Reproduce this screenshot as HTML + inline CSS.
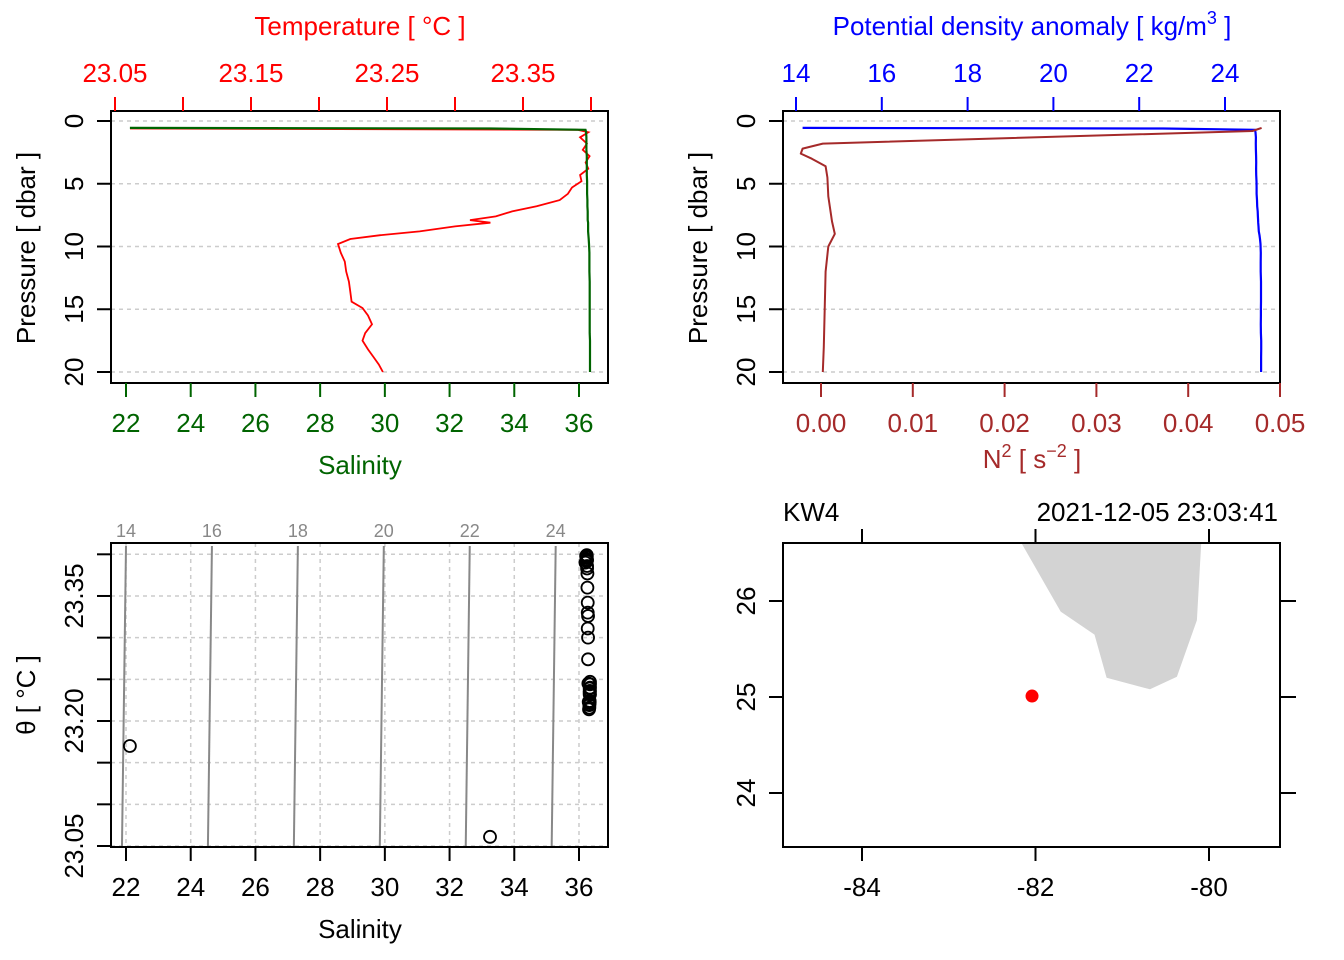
<!DOCTYPE html>
<html><head><meta charset="utf-8"><style>
body{margin:0;background:#fff}
svg{display:block;font-family:"Liberation Sans",sans-serif}
</style></head><body>
<svg id="s" width="1344" height="960" viewBox="0 0 1344 960" xmlns="http://www.w3.org/2000/svg"></svg>
<script>
// ---- profile data ----
const pressure = [0.55,0.6,0.7,0.9,1.3,1.8,2.3,2.8,3.3,3.8,4.3,4.8,5.3,5.8,6.3,6.8,7.2,7.6,7.9,8.1,8.4,8.8,9.1,9.4,9.8,10.5,11.2,12,12.8,13.6,14.4,14.9,15.5,16.2,16.9,17.5,18.2,18.8,19.4,20];
const temperature = [23.170,23.061,23.390,23.398,23.392,23.397,23.394,23.399,23.396,23.398,23.392,23.393,23.386,23.383,23.377,23.360,23.342,23.330,23.311,23.326,23.300,23.274,23.245,23.223,23.214,23.216,23.219,23.220,23.222,23.223,23.224,23.232,23.236,23.239,23.234,23.232,23.236,23.240,23.244,23.247];
const salinity = [22.12,33.25,36.20,36.22,36.23,36.23,36.23,36.24,36.24,36.24,36.24,36.25,36.25,36.25,36.26,36.26,36.27,36.27,36.27,36.28,36.28,36.28,36.29,36.30,36.31,36.32,36.32,36.32,36.33,36.33,36.33,36.33,36.33,36.33,36.33,36.34,36.34,36.34,36.34,36.34];
const n2Pressure = [0.55,0.8,1.8,2.2,2.6,3.0,3.6,4.5,6,8,9,10,12,15,18,20];
const n2Values = [0.0480,0.0470,0.0002,-0.0020,-0.0022,-0.0010,0.0005,0.0007,0.0008,0.0012,0.0015,0.0008,0.0005,0.0004,0.0003,0.0002];
const tempTicks = [23.05,23.10,23.15,23.20,23.25,23.30,23.35,23.40];
const tempLabels = ["23.05","","23.15","","23.25","","23.35",""];
const salTicks = [22,24,26,28,30,32,34,36];
const pTicks = [0,5,10,15,20];
const sigTicks = [14,16,18,20,22,24];
const n2Ticks = [0,0.01,0.02,0.03,0.04,0.05];
const n2Labels = ["0.00","0.01","0.02","0.03","0.04","0.05"];
const thetaTicks = [23.05,23.10,23.15,23.20,23.25,23.30,23.35,23.40];
const thetaLabels = ["23.05","","","23.20","","","23.35",""];
const isoLevels = [14,16,18,20,22,24];
const lonTicks = [-84,-82,-80];
const latTicks = [24,25,26];
const coastLon = [-82.16,-81.71,-81.32,-81.18,-80.68,-80.37,-80.14,-80.09];
const coastLat = [26.60,25.89,25.65,25.20,25.08,25.21,25.80,26.60];
const stationLon = -82.04, stationLat = 25.01;

const FS = 26;
const S = document.getElementById('s');
const NS = 'http://www.w3.org/2000/svg';
function mk(tag, at, parent){const e=document.createElementNS(NS,tag);for(const k in at)e.setAttribute(k,at[k]);(parent||S).appendChild(e);return e;}
function txt(x,y,str,size,fill,anchor,rot){const t=mk('text',{x:x,y:y,'font-size':size,fill:fill,'text-anchor':anchor||'middle'});if(rot)t.setAttribute('transform','rotate(-90 '+x+' '+y+')');t.textContent=str;return t;}
function sigma(s,t){return 14+(s-22.0)/1.328-(t-23.41)*0.26;}

const xS = s=>126+(s-22)*32.357;
const xT = t=>115+(t-23.05)/0.05*68;
const yP1 = p=>121+p*12.55;
const xSig = g=>796+(g-14)*42.9;
const xN2 = n=>821+n*9180;
const yTh = t=>846-(t-23.05)/0.05*41.67;
const xLon = l=>862+(l+84)*86.75;
const yLat = l=>601-(l-26)*96;

// ===== Panel 1 =====
let g = mk('g',{});  
pTicks.forEach(p=>{const l=mk('line',{x1:111,x2:608,y1:yP1(p),y2:yP1(p),stroke:'#ccc','stroke-dasharray':'4 4','stroke-width':1.5},g);});
let d='';pressure.forEach((p,i)=>{d+=(i?'L':'M')+xT(temperature[i]).toFixed(1)+' '+yP1(p).toFixed(1);});
let e=mk('path',{d:d,fill:'none',stroke:'#f00','stroke-width':1.8},g);
d='';pressure.forEach((p,i)=>{d+=(i?'L':'M')+xS(salinity[i]).toFixed(1)+' '+yP1(p).toFixed(1);});
e=mk('path',{d:d,fill:'none',stroke:'#006400','stroke-width':2.2},g);
e=mk('rect',{x:111,y:111,width:497,height:272,fill:'none',stroke:'#000','stroke-width':2},g);
tempTicks.forEach((t,i)=>{mk('line',{x1:xT(t),x2:xT(t),y1:111,y2:97,stroke:'#f00','stroke-width':2},g);if(tempLabels[i]){e=txt(xT(t),82,tempLabels[i],FS,'#f00');}});
salTicks.forEach(s=>{mk('line',{x1:xS(s),x2:xS(s),y1:383,y2:397,stroke:'#006400','stroke-width':2},g);e=txt(xS(s),432,String(s),FS,'#006400');});
pTicks.forEach(p=>{mk('line',{x1:111,x2:97,y1:yP1(p),y2:yP1(p),stroke:'#000','stroke-width':2},g);e=txt(83,yP1(p),String(p),FS,'#000','middle',true);});
e=txt(360,35,'Temperature [ °C ]',FS,'#f00');
e=txt(360,474,'Salinity',FS,'#006400');
e=txt(35,248,'Pressure [ dbar ]',FS,'#000','middle',true);

// ===== Panel 2 =====
g = mk('g',{});  
pTicks.forEach(p=>{const l=mk('line',{x1:783,x2:1280,y1:yP1(p),y2:yP1(p),stroke:'#ccc','stroke-dasharray':'4 4','stroke-width':1.5},g);});
d='';pressure.forEach((p,i)=>{d+=(i?'L':'M')+xSig(sigma(salinity[i],temperature[i])).toFixed(1)+' '+yP1(p).toFixed(1);});
e=mk('path',{d:d,fill:'none',stroke:'#00f','stroke-width':2.2},g);
d='';n2Pressure.forEach((p,i)=>{d+=(i?'L':'M')+xN2(n2Values[i]).toFixed(1)+' '+yP1(p).toFixed(1);});
e=mk('path',{d:d,fill:'none',stroke:'#a52a2a','stroke-width':2,'stroke-linejoin':'round'},g);
e=mk('rect',{x:783,y:111,width:497,height:272,fill:'none',stroke:'#000','stroke-width':2},g);
sigTicks.forEach(s=>{mk('line',{x1:xSig(s),x2:xSig(s),y1:111,y2:97,stroke:'#00f','stroke-width':2},g);e=txt(xSig(s),82,String(s),FS,'#00f');});
n2Ticks.forEach((n,i)=>{mk('line',{x1:xN2(n),x2:xN2(n),y1:383,y2:397,stroke:'#a52a2a','stroke-width':2},g);e=txt(xN2(n),432,n2Labels[i],FS,'#a52a2a');});
pTicks.forEach(p=>{mk('line',{x1:783,x2:769,y1:yP1(p),y2:yP1(p),stroke:'#000','stroke-width':2},g);e=txt(755,yP1(p),String(p),FS,'#000','middle',true);});
e=mk('text',{x:1032,y:35,'font-size':FS,fill:'#00f','text-anchor':'middle'},g);e.innerHTML='Potential density anomaly [ kg/m<tspan dy="-11" font-size="18">3</tspan><tspan dy="11"> ]</tspan>';
e=mk('text',{x:1032,y:468,'font-size':FS,fill:'#a52a2a','text-anchor':'middle'},g);e.innerHTML='N<tspan dy="-11" font-size="18">2</tspan><tspan dy="11"> [ s</tspan><tspan dy="-11" font-size="18">−2</tspan><tspan dy="11"> ]</tspan>';
e=txt(707,248,'Pressure [ dbar ]',FS,'#000','middle',true);

// ===== Panel 3 TS diagram =====
g = mk('g',{});  
mk('clipPath',{id:'c3'},g); mk('rect',{x:111,y:543,width:497,height:304},document.getElementById('c3'));
const g3 = mk('g',{'clip-path':'url(#c3)'},g);
salTicks.forEach(s=>{e=mk('line',{x1:xS(s),x2:xS(s),y1:543,y2:847,stroke:'#ccc','stroke-dasharray':'4 4','stroke-width':1.5},g3);});
thetaTicks.forEach(t=>{e=mk('line',{x1:111,x2:608,y1:yTh(t),y2:yTh(t),stroke:'#ccc','stroke-dasharray':'4 4','stroke-width':1.5},g3);});
const thTop=23.41, thBot=23.04;
isoLevels.forEach(lv=>{
  const sAt=t=>22.0+(lv-14+(t-23.41)*0.26)*1.328;
  e=mk('line',{x1:xS(sAt(thTop)),y1:yTh(thTop),x2:xS(sAt(thBot)),y2:yTh(thBot),stroke:'#888','stroke-width':2},g3);
  e=txt(xS(sAt(23.41)),537,String(lv),18,'#888');g.appendChild(e);
});
pressure.forEach((p,i)=>{e=mk('circle',{cx:xS(salinity[i]),cy:yTh(temperature[i]),r:6,fill:'none',stroke:'#000','stroke-width':1.8},g3);});
e=mk('rect',{x:111,y:543,width:497,height:304,fill:'none',stroke:'#000','stroke-width':2},g);
salTicks.forEach(s=>{mk('line',{x1:xS(s),x2:xS(s),y1:847,y2:861,stroke:'#000','stroke-width':2},g);e=txt(xS(s),896,String(s),FS,'#000');});
thetaTicks.forEach((t,i)=>{mk('line',{x1:111,x2:97,y1:yTh(t),y2:yTh(t),stroke:'#000','stroke-width':2},g);if(thetaLabels[i]){e=txt(83,yTh(t),thetaLabels[i],FS,'#000','middle',true);}});
e=txt(360,938,'Salinity',FS,'#000');
e=txt(35,695,'θ [ °C ]',FS,'#000','middle',true);

// ===== Panel 4 map =====
g = mk('g',{});  
mk('clipPath',{id:'c4'},g); mk('rect',{x:783,y:543,width:497,height:304},document.getElementById('c4'));
let pts=coastLon.map((l,i)=>xLon(l).toFixed(1)+','+yLat(coastLat[i]).toFixed(1)).join(' ');
e=mk('polygon',{points:pts,fill:'#d3d3d3',stroke:'none','clip-path':'url(#c4)'},g);
e=mk('circle',{cx:xLon(stationLon),cy:yLat(stationLat),r:6.5,fill:'#f00'},g);
e=mk('rect',{x:783,y:543,width:497,height:304,fill:'none',stroke:'#000','stroke-width':2},g);
lonTicks.forEach(l=>{mk('line',{x1:xLon(l),x2:xLon(l),y1:847,y2:861,stroke:'#000','stroke-width':2},g);mk('line',{x1:xLon(l),x2:xLon(l),y1:543,y2:529,stroke:'#000','stroke-width':2},g);e=txt(xLon(l),896,String(l),FS,'#000');});
latTicks.forEach(l=>{mk('line',{x1:783,x2:769,y1:yLat(l),y2:yLat(l),stroke:'#000','stroke-width':2},g);mk('line',{x1:1280,x2:1296,y1:yLat(l),y2:yLat(l),stroke:'#000','stroke-width':2},g);e=txt(755,yLat(l),String(l),FS,'#000','middle',true);});
e=txt(783,521,'KW4',FS,'#000','start');
e=txt(1278,521,'2021-12-05 23:03:41',FS,'#000','end');
</script>
</body></html>
